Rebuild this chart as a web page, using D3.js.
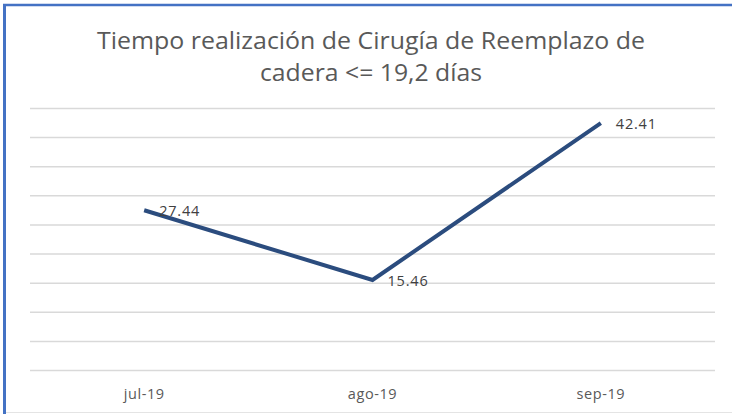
<!DOCTYPE html>
<html><head><meta charset="utf-8">
<script src="https://cdn.jsdelivr.net/npm/d3@7"></script>
<style>html,body{margin:0;padding:0;background:#fff;overflow:hidden}</style>
</head><body>
<script>
const categories = ["jul-19", "ago-19", "sep-19"];
const values = [27.44, 15.46, 42.41];
const yTicks = [0, 5, 10, 15, 20, 25, 30, 35, 40, 45];
const titleLines = ["Tiempo realización de Cirugía de Reemplazo de", "cadera <= 19,2 días"];

const W = 732, H = 414;
const svg = d3.select("body").append("svg").attr("width", W).attr("height", H);
const font = "'Open Sans', 'Noto Sans', sans-serif";

// frame
svg.append("rect").attr("x", 0).attr("y", 0).attr("width", W).attr("height", H).attr("fill", "#fff");
svg.append("line").attr("x1", 3).attr("x2", W).attr("y1", 5).attr("y2", 5).attr("stroke", "#4472C4").attr("stroke-width", 2.5);
svg.append("line").attr("x1", 4.5).attr("x2", 4.5).attr("y1", 4).attr("y2", H).attr("stroke", "#4472C4").attr("stroke-width", 3);
svg.append("line").attr("x1", 6).attr("x2", W).attr("y1", 412.5).attr("y2", 412.5).attr("stroke", "#e4e4e4").attr("stroke-width", 1);

const x = d3.scaleBand().domain(categories).range([30, 715]);
const y = d3.scaleLinear().domain([0, 45]).range([370, 108]);

// gridlines
const yAxis = d3.axisLeft(y).tickValues(yTicks).tickSize(-(715 - 30)).tickFormat("");
const gy = svg.append("g").attr("transform", "translate(30,0)").call(yAxis);
gy.select(".domain").remove();
gy.selectAll(".tick line").attr("stroke", "#d9d9d9").attr("stroke-width", 1.5);

// x axis labels
const xAxis = d3.axisBottom(x).tickSize(0).tickPadding(0);
const gx = svg.append("g").attr("transform", "translate(0,370)").call(xAxis);
gx.select(".domain").remove();
gx.selectAll(".tick text").attr("dy", 0).attr("y", 29).attr("font-family", font)
  .attr("font-size", 14.5).attr("letter-spacing", 0.6).attr("fill", "#595959");

// title
svg.append("g").selectAll("text").data(titleLines).join("text")
  .attr("x", 371).attr("y", (d, i) => 49 + i * 32)
  .attr("text-anchor", "middle").attr("font-family", font).attr("font-size", 23)
  .attr("fill", "#595959")
  .attr("textLength", (d, i) => i === 0 ? 548 : 222).attr("lengthAdjust", "spacingAndGlyphs")
  .text(d => d);

// line
const cx = d => x(d) + x.bandwidth() / 2;
const line = d3.line().x((d, i) => cx(categories[i])).y(d => y(d));
svg.append("path").datum(values).attr("d", line).attr("fill", "none")
  .attr("stroke", "#2B4C7E").attr("stroke-width", 4).attr("stroke-linejoin", "miter");

// data labels
svg.append("g").selectAll("text").data(values).join("text")
  .attr("x", (d, i) => cx(categories[i]) + 15).attr("y", d => y(d) + 6)
  .attr("font-family", font).attr("font-size", 14.5).attr("letter-spacing", 0.8).attr("fill", "#404040")
  .text(d => d.toFixed(2));
</script>
</body></html>
